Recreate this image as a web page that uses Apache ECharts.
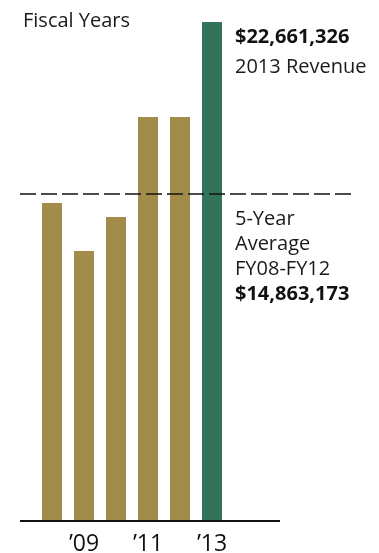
<!DOCTYPE html>
<html>
<head>
<meta charset="utf-8">
<script src="https://cdn.jsdelivr.net/npm/echarts@6/dist/echarts.min.js"></script>
<style>
html,body{margin:0;padding:0;background:#fff;}
#chart{width:379px;height:553px;}
</style>
</head>
<body>
<div id="chart"></div>
<script>
// fiscal years, revenue per year
const categories = ['FY08', 'FY09', 'FY10', 'FY11', 'FY12', 'FY13'];
const revenue = [14440000, 12260000, 13810000, 18350000, 18350000, 22661326];
const tickLabels = ['', '\u201909', '', '\u201911', '', '\u201913'];
const fiveYearAverage = 14863173;
const latestText = ['$22,661,326', '2013 Revenue'];
const averageText = ['5-Year', 'Average', 'FY08-FY12', '$14,863,173'];

const gold = '#a38c49';
const green = '#33735a';
const font = '"Open Sans", "Noto Sans", sans-serif';

var chart = echarts.init(document.getElementById('chart'));

const option = {
    animation: false,
    grid: {
        left: 20,
        right: 28,
        top: 22,
        bottom: 32,
        outerBoundsMode: 'none'
    },
    title: [
        {
            text: 'Fiscal Years',
            left: 18,
            top: 6,
            textStyle: { fontFamily: font, fontSize: 20, fontWeight: 'normal', color: '#1a1a1a' }
        },
        {
            text: '{b|' + latestText[0] + '}\n{n|' + latestText[1] + '}',
            left: 230,
            top: 17,
            textStyle: {
                rich: {
                    b: { fontFamily: font, fontSize: 20, fontWeight: 'bold', color: '#111', lineHeight: 30 },
                    n: { fontFamily: font, fontSize: 20, fontWeight: 'normal', color: '#1a1a1a', lineHeight: 30 }
                }
            }
        },
        {
            text: averageText.slice(0, 3).map(t => '{n|' + t + '}').join('\n') + '\n{b|' + averageText[3] + '}',
            left: 230,
            top: 202,
            textStyle: {
                rich: {
                    b: { fontFamily: font, fontSize: 20, fontWeight: 'bold', color: '#111', lineHeight: 25 },
                    n: { fontFamily: font, fontSize: 20, fontWeight: 'normal', color: '#1a1a1a', lineHeight: 25 }
                }
            }
        }
    ],
    xAxis: {
        type: 'value',
        min: -1,
        max: 9.34375,
        interval: 1,
        splitLine: { show: false },
        axisLine: { show: false },
        axisTick: { show: false },
        axisLabel: {
            showMaxLabel: false,
            margin: 12,
            fontFamily: font,
            fontSize: 23,
            color: '#111',
            formatter: function (v) {
                return tickLabels[v] || '';
            }
        }
    },
    yAxis: {
        type: 'value',
        min: 0,
        max: revenue[5],
        show: false
    },
    series: [{
        type: 'bar',
        barWidth: 20,
        data: revenue.map((v, i) => ({
            name: categories[i],
            value: [i, v],
            itemStyle: { color: i === revenue.length - 1 ? green : gold }
        })),
        markLine: {
            silent: true,
            symbol: 'none',
            label: { show: false },
            data: [
                {
                    yAxis: fiveYearAverage,
                    lineStyle: { color: '#111', width: 1.5, type: [16, 5] }
                },
                [
                    { coord: [-1, 0], lineStyle: { color: '#111', width: 2, type: 'solid' } },
                    { coord: [7.125, 0] }
                ]
            ]
        }
    }]
};

chart.setOption(option);
window.addEventListener('resize', function () {
    chart.resize();
});
</script>
</body>
</html>
